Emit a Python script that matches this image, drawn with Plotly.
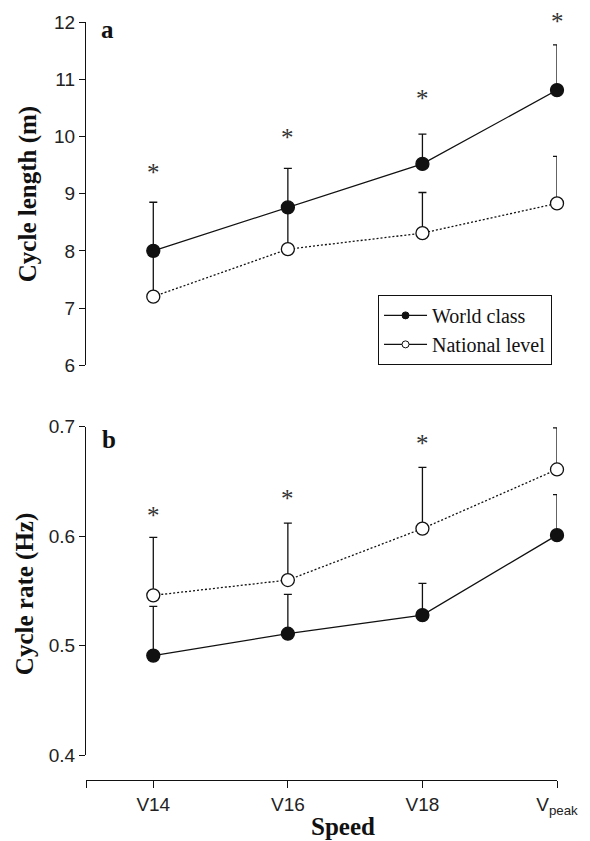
import plotly.graph_objects as go

# ---------------- data ----------------
speeds = ["V14", "V16", "V18", "V<sub>peak</sub>"]
x_pos = [0, 1, 2, 3]

# panel a: cycle length (m)
length_world = [8.00, 8.76, 9.52, 10.81]
length_world_sd = [0.85, 0.68, 0.52, 0.79]
length_national = [7.20, 8.03, 8.31, 8.83]
length_national_sd = [0.71, 0.65, 0.71, 0.82]
length_sig_y = [9.35, 9.97, 10.65, 12.0]

# panel b: cycle rate (Hz)
rate_world = [0.491, 0.511, 0.528, 0.601]
rate_world_sd = [0.045, 0.036, 0.029, 0.037]
rate_national = [0.546, 0.560, 0.607, 0.661]
rate_national_sd = [0.053, 0.052, 0.056, 0.038]
rate_sig_y = [0.618, 0.634, 0.684, 0.722]

SERIF = "Liberation Serif, Times New Roman, serif"
SANS = "Liberation Sans, Arial, sans-serif"
INK = "#111111"
LW = 1.3


def err(sd):
    return dict(type="data", symmetric=False, array=sd, arrayminus=[0] * len(sd),
                color=INK, thickness=LW, width=4)


fig = go.Figure()

# national level (open, dotted) drawn first, world class on top
for yax, vals, sd in [("y", length_national, length_national_sd),
                      ("y2", rate_national, rate_national_sd)]:
    fig.add_trace(go.Scatter(
        x=x_pos, y=vals, xaxis="x", yaxis=yax, mode="lines+markers",
        line=dict(color=INK, width=LW, dash="2px,2px"),
        marker=dict(size=13, color="white", line=dict(color=INK, width=LW)),
        error_y=err(sd), showlegend=False, cliponaxis=False))

for yax, vals, sd in [("y", length_world, length_world_sd),
                      ("y2", rate_world, rate_world_sd)]:
    fig.add_trace(go.Scatter(
        x=x_pos, y=vals, xaxis="x", yaxis=yax, mode="lines+markers",
        line=dict(color=INK, width=LW),
        marker=dict(size=13, color=INK, line=dict(color=INK, width=LW)),
        error_y=err(sd), showlegend=False, cliponaxis=False))

# legend-only entries
fig.add_trace(go.Scatter(x=[None], y=[None], yaxis="y", mode="lines+markers",
                         name="World class",
                         line=dict(color=INK, width=LW),
                         marker=dict(size=7, color=INK, line=dict(color=INK, width=1))))
fig.add_trace(go.Scatter(x=[None], y=[None], yaxis="y", mode="lines+markers",
                         name="National level",
                         line=dict(color=INK, width=LW),
                         marker=dict(size=7, color="white", line=dict(color=INK, width=1))))

annotations = []
for xi, ys in zip(x_pos, length_sig_y):
    annotations.append(dict(x=xi, y=ys, xref="x", yref="y", text="*", showarrow=False,
                            xanchor="center", yanchor="middle",
                            font=dict(family=SERIF, size=25, color="#333"), yshift=1))
for xi, ys in zip(x_pos, rate_sig_y):
    annotations.append(dict(x=xi, y=ys, xref="x", yref="y2", text="*", showarrow=False,
                            xanchor="center", yanchor="middle",
                            font=dict(family=SERIF, size=25, color="#333"), yshift=1))

# panel letters
annotations.append(dict(x=-0.34, y=11.87, xref="x", yref="y", text="<b>a</b>", showarrow=False,
                        xanchor="center", yanchor="middle",
                        font=dict(family=SERIF, size=25, color=INK)))
annotations.append(dict(x=-0.33, y=0.688, xref="x", yref="y2", text="<b>b</b>", showarrow=False,
                        xanchor="center", yanchor="middle",
                        font=dict(family=SERIF, size=25, color=INK)))

# axis titles
annotations.append(dict(x=-0.124, y=0.7723, xref="paper", yref="paper", text="<b>Cycle length (m)</b>",
                        xanchor="center", yanchor="middle",
                        textangle=-90, showarrow=False, font=dict(family=SERIF, size=25, color=INK)))
annotations.append(dict(x=-0.128, y=0.2448, xref="paper", yref="paper", text="<b>Cycle rate (Hz)</b>",
                        xanchor="center", yanchor="middle",
                        textangle=-90, showarrow=False, font=dict(family=SERIF, size=25, color=INK)))
annotations.append(dict(x=0.545, y=-0.0615, xref="paper", yref="paper", text="<b>Speed</b>",
                        xanchor="center", yanchor="middle",
                        showarrow=False, font=dict(family=SERIF, size=25, color=INK)))

axis_common = dict(showline=True, linecolor=INK, linewidth=LW, ticks="outside",
                   tickcolor=INK, tickwidth=LW, showgrid=False, zeroline=False,
                   tickfont=dict(family=SANS, size=19, color="#222"))

fig.update_layout(
    width=590, height=841,
    margin=dict(l=86, r=27, t=16, b=61),
    paper_bgcolor="white", plot_bgcolor="white",
    xaxis=dict(range=[-0.5, 3], anchor="free", position=0,
               tickvals=[-0.5] + x_pos, ticktext=[""] + speeds, ticklen=7,
               **axis_common),
    yaxis=dict(domain=[0.5471, 1], range=[6, 12], tickvals=[6, 7, 8, 9, 10, 11, 12],
               ticklen=6, anchor="x", **axis_common),
    yaxis2=dict(domain=[0.0327, 0.466], range=[0.4, 0.7], tickvals=[0.4, 0.5, 0.6, 0.7],
                tickformat=".1f", ticklen=6, anchor="x", **axis_common),
    legend=dict(x=0.62, y=0.640, xanchor="left", yanchor="top",
                bordercolor=INK, borderwidth=1, bgcolor="white",
                font=dict(family=SERIF, size=20, color=INK), itemwidth=43,
                entrywidth=186, entrywidthmode="pixels"),
    annotations=annotations,
    showlegend=True,
)

fig.write_html("out.html")
